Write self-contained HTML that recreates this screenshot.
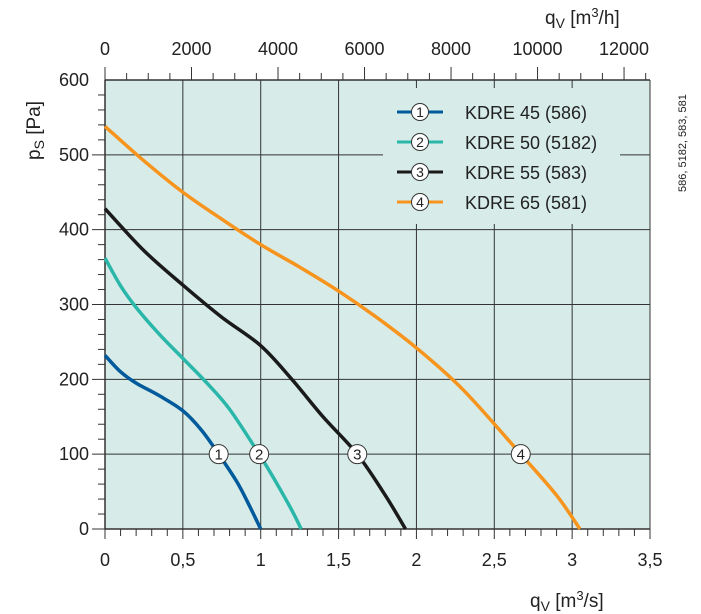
<!DOCTYPE html>
<html><head><meta charset="utf-8"><style>
body{margin:0;background:#fff;}
svg{display:block;font-family:"Liberation Sans",sans-serif;}
</style></head><body>
<svg id="chart" width="701" height="614" viewBox="0 0 701 614" xmlns="http://www.w3.org/2000/svg"></svg>
<script>
const xTicks=[0,0.5,1,1.5,2,2.5,3,3.5];
const xTickLabels=["0","0,5","1","1,5","2","2,5","3","3,5"];
const yTicks=[0,100,200,300,400,500,600];
const topTicks=[0,2000,4000,6000,8000,10000,12000];
const seriesNames=["KDRE 45 (586)","KDRE 50 (5182)","KDRE 55 (583)","KDRE 65 (581)"];
const seriesColors=["#005a9c","#2ab7a9","#1a1a1a","#f7941d"];
const s1q=[0,0.1,0.2,0.35,0.5,0.62,0.73,0.85,0.93,1.0];
const s1p=[232,210,195,178,158,132,100,62,30,0];
const s2q=[0,0.1,0.2,0.35,0.5,0.65,0.8,0.99,1.1,1.2,1.26];
const s2p=[362,325,296,260,228,196,160,100,62,25,0];
const s3q=[0,0.25,0.5,0.75,1.0,1.2,1.4,1.62,1.8,1.93];
const s3p=[428,372,326,283,245,200,150,100,45,0];
const s4q=[0,0.25,0.5,0.75,1.0,1.25,1.5,1.75,2.0,2.3,2.67,2.9,3.05];
const s4p=[538,492,450,414,380,350,318,282,242,186,100,45,0];
const markerP=100;
const markerQ=[0.73,0.99,1.62,2.67];

const svg=document.getElementById('chart');
const NS='http://www.w3.org/2000/svg';
const X0=105,X1=650,Y0=529,Y1=80;
const xs=q=>X0+q/3.5*(X1-X0);
const ys=p=>Y0-p/600*(Y0-Y1);
const xh=v=>xs(v/3600);
function mk(t,a,parent){const e=document.createElementNS(NS,t);for(const k in a)e.setAttribute(k,a[k]);(parent||svg).appendChild(e);return e;}

let bg=mk('rect',{x:X0,y:Y1,width:X1-X0,height:Y0-Y1,fill:'#d7ece8'});



const LX0=383,LX1=620,LY0=88,LY1=224;
const grid=mk('g',{stroke:'#333','stroke-width':1});


xTicks.forEach(q=>{if(q===0||q===3.5)return;const x=xs(q);
 if(x>LX0&&x<LX1){mk('line',{x1:x,y1:Y1,x2:x,y2:LY0},grid);mk('line',{x1:x,y1:LY1,x2:x,y2:Y0},grid);}
 else mk('line',{x1:x,y1:Y1,x2:x,y2:Y0},grid);});
yTicks.forEach(p=>{const y=ys(p);
 if(y>LY0&&y<LY1){mk('line',{x1:92,y1:y,x2:LX0,y2:y},grid);mk('line',{x1:LX1,y1:y,x2:X1,y2:y},grid);}
 else mk('line',{x1:(p===600?X0:92),y1:y,x2:X1,y2:y},grid);});
mk('line',{x1:X0,y1:Y1,x2:X0,y2:Y0,stroke:'#333','stroke-width':1.5});
mk('line',{x1:X0,y1:Y0,x2:X1,y2:Y0,stroke:'#333','stroke-width':1.5});
mk('line',{x1:X0,y1:Y1,x2:X1,y2:Y1,stroke:'#333','stroke-width':1.5});
mk('line',{x1:X1,y1:Y1,x2:X1,y2:Y0,stroke:'#333','stroke-width':1});
for(let p=20;p<600;p+=20){if(p%100===0)continue;mk('line',{x1:X0-7,y1:ys(p),x2:X0,y2:ys(p),stroke:'#333'});}
for(let i=0;i<=35;i++){const q=i/10;mk('line',{x1:xs(q),y1:Y0,x2:xs(q),y2:Y0+(i%5===0?10:7),stroke:'#333'});}
for(let v=0;v<=12500;v+=500){mk('line',{x1:xh(v),y1:Y1,x2:xh(v),y2:Y1-(v%2000===0?13:7),stroke:'#333'});}
xTicks.forEach((q,i)=>{const t=mk('text',{x:xs(q),y:566,'text-anchor':'middle','font-size':18,fill:'#222'});t.textContent=xTickLabels[i];
 });
yTicks.forEach(p=>{const t=mk('text',{x:89,y:ys(p)+6,'text-anchor':'end','font-size':18,fill:'#222'});t.textContent=p;
 });
topTicks.forEach(v=>{const t=mk('text',{x:xh(v),y:55,'text-anchor':'middle','font-size':18,fill:'#222'});t.textContent=v;
 });
const Q=[s1q,s2q,s3q,s4q],P=[s1p,s2p,s3p,s4p];
function path(qs,ps){let pts=qs.map((q,i)=>[xs(q),ys(ps[i])]);let d='M'+pts[0];
 for(let i=0;i<pts.length-1;i++){const p0=pts[i-1]||pts[i],p1=pts[i],p2=pts[i+1],p3=pts[i+2]||p2;
 const c1=[p1[0]+(p2[0]-p0[0])/6,p1[1]+(p2[1]-p0[1])/6],c2=[p2[0]-(p3[0]-p1[0])/6,p2[1]-(p3[1]-p1[1])/6];
 d+=' C'+c1+' '+c2+' '+p2;}return d;}
Q.forEach((qs,i)=>{const e=mk('path',{d:path(qs,P[i]),fill:'none',stroke:seriesColors[i],'stroke-width':3.5});
 });
markerQ.forEach((q,i)=>{const g=mk('g',{});
 mk('circle',{cx:xs(q),cy:ys(markerP),r:9.5,fill:'#fff',stroke:'#333','stroke-width':1},g);
 const t=mk('text',{x:xs(q),y:ys(markerP)+5.5,'text-anchor':'middle','font-size':15,fill:'#222'},g);t.textContent=i+1;});
seriesNames.forEach((n,i)=>{const y=112+i*30;const g=mk('g',{});
 
 mk('line',{x1:397,y1:y,x2:443,y2:y,stroke:seriesColors[i],'stroke-width':3},g);
 mk('circle',{cx:420,cy:y,r:8.5,fill:'#fff',stroke:'#333'},g);
 const c=mk('text',{x:420,y:y+5,'text-anchor':'middle','font-size':14,fill:'#222'},g);c.textContent=i+1;
 const t=mk('text',{x:465,y:y+7,'font-size':18,fill:'#222'},g);t.textContent=n;});
let t=mk('text',{x:0,y:0,'font-size':19,fill:'#222',transform:'translate(40,160) rotate(-90)'});

t.innerHTML='p<tspan font-size="14" dy="4">S</tspan><tspan dy="-4"> [Pa]</tspan>';
t=mk('text',{x:545,y:24,'font-size':19,fill:'#222'});

t.innerHTML='q<tspan font-size="14" dy="4">V</tspan><tspan dy="-4">  [m</tspan><tspan font-size="13" dy="-7">3</tspan><tspan dy="7">/h]</tspan>';
t=mk('text',{x:530,y:607,'font-size':19,fill:'#222'});

t.innerHTML='q<tspan font-size="14" dy="4">V</tspan><tspan dy="-4">  [m</tspan><tspan font-size="13" dy="-7">3</tspan><tspan dy="7">/s]</tspan>';
t=mk('text',{x:0,y:0,'font-size':11,fill:'#222',transform:'translate(686,192) rotate(-90)'});

t.textContent='586, 5182, 583, 581';
</script>
</body></html>
